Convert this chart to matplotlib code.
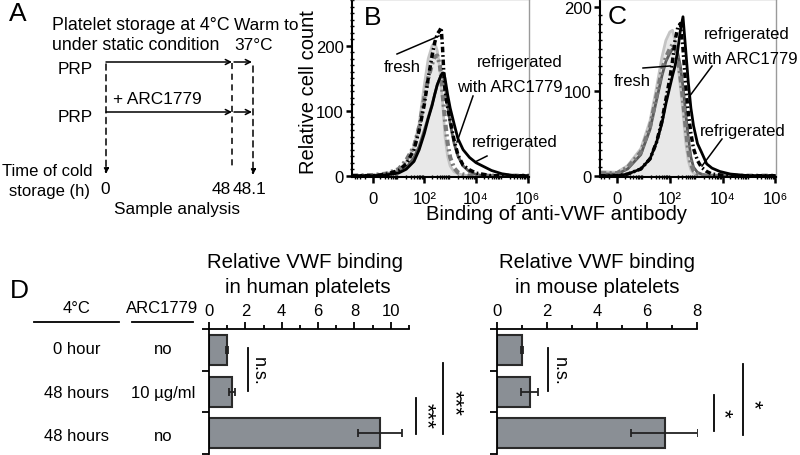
import numpy as np
import matplotlib
matplotlib.use('Agg')
import matplotlib.pyplot as plt
from matplotlib.ticker import FixedLocator

plt.rcParams['font.family'] = ['Liberation Sans', 'DejaVu Sans']

W, H = 800, 456

# --- panel B: human platelets, x = decade position on logicle axis (0 -> "0", 2 -> 10^2 ...)
b_u = [-0.8, 0.0, 0.5, 1.0, 1.3, 1.6, 1.8, 2.0, 2.15, 2.3, 2.4, 2.5, 2.6, 2.65, 2.7,
       2.75, 2.8, 2.9, 3.0, 3.15, 3.3, 3.5, 3.75, 4.0, 4.3, 4.6, 5.0, 5.5, 6.05]
b_ctrl = [0, 1, 3, 8, 22, 45, 80, 140, 180, 200, 205, 192, 165, 140, 115,
          88, 60, 30, 15, 6, 3, 1, 0, 0, 0, 0, 0, 0, 0]
b_gdash = [0, 1, 3, 10, 24, 45, 75, 120, 150, 172, 183, 185, 170, 152, 130,
           108, 85, 50, 28, 12, 5, 2, 0, 0, 0, 0, 0, 0, 0]
b_gsolid = [0, 0, 2, 6, 12, 28, 45, 70, 90, 110, 125, 140, 150, 153, 155,
            150, 140, 110, 80, 50, 30, 15, 6, 2, 0, 0, 0, 0, 0]
b_kdash = [0, 0, 2, 8, 18, 40, 70, 110, 150, 185, 205, 218, 224, 228, 200,
           160, 130, 105, 85, 55, 32, 16, 9, 4, 2, 0, 0, 0, 0]
b_ksolid = [0, 0, 1, 4, 10, 22, 40, 65, 88, 108, 125, 140, 150, 155, 158,
            158, 150, 125, 104, 80, 57, 40, 28, 20, 14, 8, 3, 0, 0]

# --- panel C: mouse platelets
c_u = [-0.65, 0.0, 0.4, 0.9, 1.25, 1.5, 1.7, 1.85, 2.0, 2.1, 2.2, 2.3, 2.4,
       2.5, 2.6, 2.7, 2.8, 2.9, 3.05, 3.2, 3.4, 3.6, 3.9, 4.3, 5.0, 6.03]
c_ctrl = [5, 4, 12, 32, 65, 105, 140, 160, 170, 172, 160, 135, 105,
          75, 40, 18, 7, 3, 1, 0, 0, 0, 0, 0, 0, 0]
c_gdash = [3, 3, 10, 28, 58, 95, 125, 140, 150, 155, 152, 140, 118,
           90, 58, 30, 14, 6, 2, 1, 0, 0, 0, 0, 0, 0]
c_gsolid = [2, 2, 8, 25, 55, 90, 118, 135, 145, 150, 150, 145, 130,
            105, 75, 45, 22, 10, 4, 2, 0, 0, 0, 0, 0, 0]
c_kdash = [0, 0, 2, 8, 20, 40, 65, 90, 115, 135, 160, 175, 180,
           150, 108, 75, 50, 32, 18, 10, 5, 2, 1, 0, 0, 0]
c_ksolid = [0, 0, 2, 8, 20, 40, 62, 85, 105, 118, 130, 148, 172,
            188, 150, 111, 80, 59, 38, 28, 14, 9, 5, 2, 0, 0]

hist_ticklabels = ['0', '10²', '10⁴', '10⁶']

# --- panel D: relative VWF binding
cond_temp = ['0 hour', '48 hours', '48 hours']
cond_arc = ['no', '10 µg/ml', 'no']
human_mean = [1.0, 1.26, 9.4]
human_err = [0.05, 0.15, 1.2]
mouse_mean = [1.0, 1.3, 6.7]
mouse_err = [0.05, 0.33, 1.35]

fig = plt.figure(figsize=(8, 4.56), dpi=100)


def px_axes(l, t, r, b):
    return fig.add_axes([l / W, 1 - b / H, (r - l) / W, (b - t) / H])


dash_dot = (0, (1.6, 0.8, 0.5, 0.8))
x_minor = []
for d in range(6):
    x_minor += [d + np.log10(k) for k in range(2, 10)]
x_minor += [-0.3, -0.5, -0.6, -0.7]


def hist_panel(ax, u, ctrl, gdash, gsolid, kdash, ksolid, xlim, ylim):
    ax.fill_between(u, ctrl, color='#e8e8e8', lw=0)
    ax.plot(u, ctrl, color='#c4c4c4', lw=2)
    ax.plot(u, gsolid, color='#5a5a5a', lw=2)
    ax.plot(u, gdash, color='#7a7a7a', lw=3, ls=(0, (1.5, 0.8, 0.5, 0.8)))
    ax.plot(u, ksolid, color='black', lw=2)
    ax.plot(u, kdash, color='black', lw=2.5, ls=dash_dot)
    ax.set_xlim(*xlim)
    ax.set_ylim(*ylim)
    ax.set_xticks([0, 2, 4, 6])
    ax.set_xticklabels(hist_ticklabels, fontsize=12)
    ax.xaxis.set_minor_locator(FixedLocator(x_minor))
    ax.set_yticks([0, 100, 200])
    ax.set_yticklabels(['0', '100', '200'], fontsize=12)
    ax.yaxis.set_minor_locator(FixedLocator(list(range(10, int(ylim[1]), 10))))
    ax.tick_params(which='major', direction='out', length=4, width=1.8)
    ax.tick_params(axis='x', which='major', pad=6)
    ax.tick_params(axis='y', which='major', pad=2)
    ax.tick_params(which='minor', direction='inout', length=3, width=1)
    for s in ['top', 'right']:
        ax.spines[s].set_color('#9a9a9a')
        ax.spines[s].set_linewidth(1)
    for s in ['left', 'bottom']:
        ax.spines[s].set_linewidth(1.5)


axB = px_axes(352, 0, 529, 178)
hist_panel(axB, b_u, b_ctrl, b_gdash, b_gsolid, b_kdash, b_ksolid, (-0.8, 6.05), (-2, 272))
axC = px_axes(600, 0, 776, 178)
hist_panel(axC, c_u, c_ctrl, c_gdash, c_gsolid, c_kdash, c_ksolid, (-0.65, 6.03), (-1.5, 209))


def bar_panel(ax, mean, err, xmax, sig):
    y = np.arange(3)
    ax.barh(y, mean, height=0.72, color='#8a8f95', edgecolor='#2a2a2a', lw=1.5)
    ax.errorbar(mean, y, xerr=err, fmt='none', ecolor='#222222', elinewidth=1.3,
                capsize=3, capthick=1.3)
    ax.set_xlim(0, xmax)
    ax.set_ylim(2.5, -0.5)
    ax.xaxis.tick_top()
    ax.set_xticks(np.arange(0, xmax + 0.1, 2))
    ax.set_xticklabels([str(v) for v in range(0, int(xmax) + 1, 2)], fontsize=12)
    ax.xaxis.set_minor_locator(FixedLocator(np.arange(1, xmax + 0.1, 2)))
    ax.set_yticks([-0.5, 0.5, 1.5, 2.5])
    ax.set_yticklabels([])
    ax.tick_params(which='major', direction='out', length=5, width=1.3, pad=3)
    ax.tick_params(which='minor', direction='out', length=3, width=1.3)
    ax.tick_params(axis='x', which='both', top=True, bottom=False)
    for s in ['right', 'bottom']:
        ax.spines[s].set_visible(False)
    for s in ['top', 'left']:
        ax.spines[s].set_linewidth(1.3)
    for x0, y0, y1, txt, tx, ty, fsz in sig:
        ax.plot([x0, x0], [y0, y1], color='black', lw=1.3, clip_on=False)
        ax.text(tx, ty, txt, rotation=270, ha='center', va='center', fontsize=fsz,
                clip_on=False)


axH = px_axes(209, 330, 409, 455)
bar_panel(axH, human_mean, human_err, 11,
          [(2.14, -0.05, 0.99, 'n.s.', 2.72, 0.5, 13),
           (11.37, 1.16, 2.02, '***', 11.95, 1.57, 16),
           (12.86, 0.31, 2.02, '***', 13.45, 1.25, 16)])
axM = px_axes(497, 330, 697, 455)
bar_panel(axM, mouse_mean, mouse_err, 8,
          [(2.04, -0.05, 0.99, 'n.s.', 2.5, 0.5, 13),
           (8.68, 1.08, 1.95, '*', 9.04, 1.51, 16),
           (9.84, 0.34, 2.05, '*', 10.24, 1.28, 16)])

# overlay in pixel coordinates for the scheme and annotations
ov = fig.add_axes([0, 0, 1, 1])
ov.set_xlim(0, W)
ov.set_ylim(H, 0)
ov.axis('off')
ov.set_zorder(10)
ov.patch.set_alpha(0)

fs = 12
fa = 12.4
ov.text(18, 14, 'A', fontsize=19, ha='center', va='center')
ov.text(373, 18, 'B', fontsize=19, ha='center', va='center')
ov.text(617, 17, 'C', fontsize=19, ha='center', va='center')
ov.text(19, 291, 'D', fontsize=19, ha='center', va='center')

# panel A scheme
ov.text(52, 25, 'Platelet storage at 4°C', fontsize=12.8, va='center')
ov.text(52, 45, 'under static condition', fontsize=12.8, va='center')
ov.text(234, 25, 'Warm to', fontsize=fa, va='center')
ov.text(234, 45, '37°C', fontsize=fa, va='center')
ov.text(93, 70, 'PRP', fontsize=fa, ha='right', va='center')
ov.text(113, 100, '+ ARC1779', fontsize=fa, va='center')
ov.text(93, 118, 'PRP', fontsize=fa, ha='right', va='center')
ov.text(92, 172, 'Time of cold', fontsize=12, ha='right', va='center')
ov.text(90, 192, 'storage (h)', fontsize=12, ha='right', va='center')
ov.text(105, 190, '0', fontsize=fa, ha='center', va='center')
ov.text(231, 190, '48', fontsize=fa, ha='right', va='center')
ov.text(233, 190, '48.1', fontsize=fa, ha='left', va='center')
ov.text(177, 210, 'Sample analysis', fontsize=fa, ha='center', va='center')

arr = dict(arrowstyle='->', color='black', lw=1.1, shrinkA=0, shrinkB=0,
           mutation_scale=9)
for yy in [63, 113]:
    ov.annotate('', xy=(232, yy), xytext=(106, yy), arrowprops=arr)
    ov.annotate('', xy=(252, yy), xytext=(234, yy), arrowprops=arr)
darr = dict(arrowstyle='-|>', color='black', lw=1.1, ls=(0, (4, 3)),
            shrinkA=0, shrinkB=0, mutation_scale=8)
ov.annotate('', xy=(106, 175), xytext=(106, 65), arrowprops=darr)
ov.annotate('', xy=(253, 176), xytext=(253, 67), arrowprops=darr)
ov.plot([232, 232], [64, 167], color='black', lw=1.1, ls=(0, (4, 3)))

# histogram labels
ov.text(308, 92, 'Relative cell count', fontsize=14.5, rotation=90, ha='center', va='center')
ov.text(557, 215, 'Binding of anti-VWF antibody', fontsize=14.5, ha='center', va='center')
ov.text(402, 68, 'fresh', fontsize=fs, ha='center', va='center')
ov.plot([397, 439], [55, 37], color='black', lw=1.1)
ov.text(520, 62, 'refrigerated', fontsize=fs, ha='center', va='center')
ov.text(510, 88, 'with ARC1779', fontsize=fs, ha='center', va='center')
ov.plot([473, 457], [97, 143], color='black', lw=1.1)
ov.text(472, 143, 'refrigerated', fontsize=fs, ha='left', va='center')
ov.plot([487, 475], [157, 163], color='black', lw=1.1)

ov.text(632, 82, 'fresh', fontsize=fs, ha='center', va='center')
ov.plot([643, 670], [69, 67], color='black', lw=1.1)
ov.text(747, 35, 'refrigerated', fontsize=fs, ha='center', va='center')
ov.text(745, 60, 'with ARC1779', fontsize=fs, ha='center', va='center')
ov.plot([712, 689], [67, 98], color='black', lw=1.1)
ov.text(743, 132, 'refrigerated', fontsize=fs, ha='center', va='center')
ov.plot([722, 702], [140, 167], color='black', lw=1.1)

# panel D titles and condition table
ov.text(305, 263, 'Relative VWF binding', fontsize=14.7, ha='center', va='center')
ov.text(308, 288, 'in human platelets', fontsize=14.7, ha='center', va='center')
ov.text(597, 263, 'Relative VWF binding', fontsize=14.7, ha='center', va='center')
ov.text(597, 288, 'in mouse platelets', fontsize=14.7, ha='center', va='center')
ov.text(77, 309, '4°C', fontsize=fs, ha='center', va='center')
ov.text(162, 309, 'ARC1779', fontsize=fs, ha='center', va='center')
ov.plot([34, 119], [323, 323], color='black', lw=1.3)
ov.plot([132, 193], [323, 323], color='black', lw=1.3)
for i, (t, a) in enumerate(zip(cond_temp, cond_arc)):
    yy = 350 + 43.5 * i
    ov.text(77, yy, t, fontsize=fs, ha='center', va='center')
    ov.text(163, yy, a, fontsize=fs, ha='center', va='center')

fig.savefig('out.png', dpi=100)
